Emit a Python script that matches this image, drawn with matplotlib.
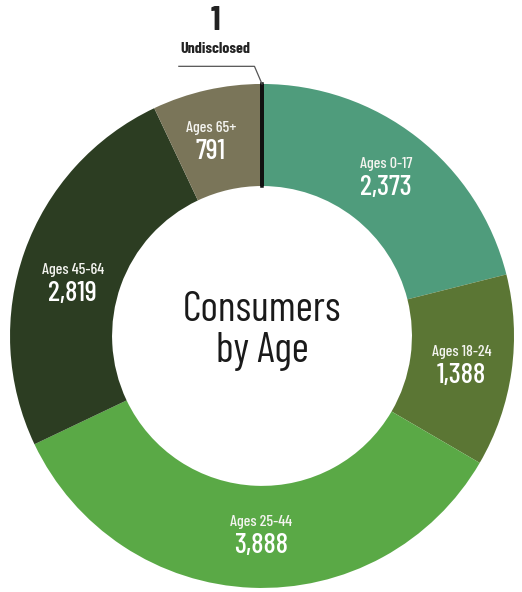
import matplotlib
matplotlib.use("Agg")
import matplotlib.pyplot as plt
import numpy as np

plt.rcParams["font.family"] = ["Barlow Condensed", "DejaVu Sans"]

# ---------- data -----------------------------------------------------------
groups = ["Ages 0-17", "Ages 18-24", "Ages 25-44", "Ages 45-64", "Ages 65+", "Undisclosed"]
consumers = [2373, 1388, 3888, 2819, 791, 1]
colors = ["#4f9c7c", "#5b7634", "#5aa946", "#2c3d22", "#7a7559", "#111111"]

# small nudges (radius, degrees) so labels sit where the original has them
label_r = [0.80, 0.80, 0.79, 0.78, 0.80]
label_da = [0, 0, 2, 4, 2]

fig = plt.figure(figsize=(5.22, 5.92), dpi=100)
ax = fig.add_axes([0.0192, 0.0068, 0.9655, 0.8514])

wedges, _ = ax.pie(consumers, colors=colors, startangle=90, counterclock=False,
                   radius=1.0, wedgeprops=dict(width=0.405, linewidth=0))
# the undisclosed wedge is too thin to see – draw it as a thick dark line
wedges[-1].set_edgecolor("#111111")
wedges[-1].set_linewidth(2.5)

total = sum(consumers)
start = 90.0
for i, (name, val) in enumerate(zip(groups, consumers)):
    sweep = val / total * 360
    mid = start - sweep / 2
    start -= sweep
    if name == "Undisclosed":
        continue
    a = np.radians(mid + label_da[i])
    x, y = label_r[i] * np.cos(a), label_r[i] * np.sin(a)
    ax.text(x, y + 0.05, name, ha="center", va="center", color="#f4f4f0",
            fontsize=11.5, fontweight="medium")
    ax.text(x, y - 0.045, f"{val:,}", ha="center", va="center", color="white",
            fontsize=20.5, fontweight="medium")

# leader for the undisclosed slice
ax.plot([0.0, -0.03, -0.33], [1.0, 1.07, 1.07], color="#555555", lw=0.9,
        clip_on=False)
ax.text(-0.185, 1.11, "Undisclosed", ha="center", va="bottom", fontsize=11.5,
        fontweight="bold", color="#222222")
ax.text(-0.185, 1.19, f"{consumers[-1]:,}", ha="center", va="bottom",
        fontsize=24, fontweight="bold", color="#222222")

ax.text(0, 0.02, "Consumers\nby Age", ha="center", va="center", fontsize=30,
        color="#1a1a1a", linespacing=1.05)

ax.set_xlim(-1, 1)
ax.set_ylim(-1, 1)
ax.set_aspect("equal")
ax.axis("off")

fig.savefig("out.png", dpi=100)
